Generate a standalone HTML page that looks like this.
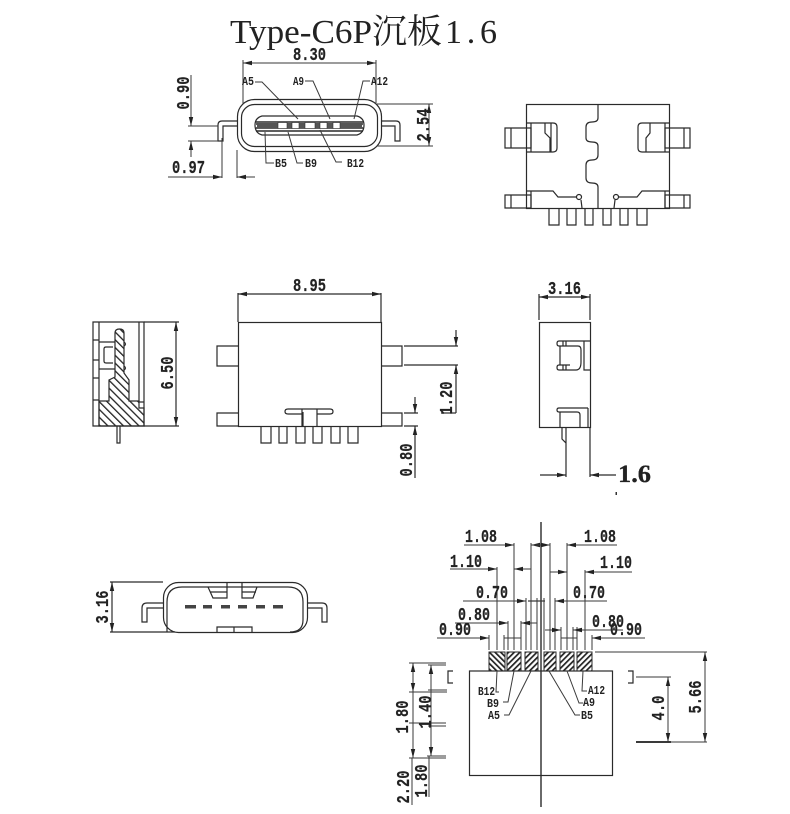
<!DOCTYPE html>
<html><head><meta charset="utf-8"><style>
html,body{margin:0;padding:0;background:#fff}
svg{display:block}
.l{fill:none;stroke:#2a2a2a;stroke-width:1.2}
.t{stroke:#3a3a3a;stroke-width:1;fill:none}
text{fill:#222;font-family:"Liberation Mono","Noto Serif CJK SC",monospace;font-weight:bold}
.d{font-size:18px;stroke:#222;stroke-width:.2}
.s{font-size:12px}
.m{text-anchor:middle}
.ti{font-size:34px;font-weight:normal;font-family:"Liberation Serif","Noto Serif CJK SC",serif}
</style></head><body>
<svg width="790" height="814" viewBox="0 0 790 814" xmlns="http://www.w3.org/2000/svg">
<defs>
<marker id="a" markerUnits="userSpaceOnUse" markerWidth="10" markerHeight="6" refX="9" refY="3" orient="auto-start-reverse"><path d="M0,.8L9,3L0,5.2z" fill="#222"/></marker>
<pattern id="h1" width="5.500" height="5.500" patternUnits="userSpaceOnUse" patternTransform="rotate(-45)"><rect width="5.500" height="5.500" fill="#fff"/><rect width="1.300" height="5.500" fill="#222"/></pattern>
<pattern id="h2" width="4" height="4" patternUnits="userSpaceOnUse" patternTransform="rotate(45)"><rect width="4" height="4" fill="#fff"/><rect width="1.700" height="4" fill="#222"/></pattern>
<pattern id="h3" width="4" height="4" patternUnits="userSpaceOnUse" patternTransform="rotate(-45)"><rect width="4" height="4" fill="#fff"/><rect width="1.700" height="4" fill="#222"/></pattern>
</defs>
<rect width="790" height="814" fill="#fff"/>
<text class="ti" x="230" y="43" textLength="142" lengthAdjust="spacingAndGlyphs">Type-C6P</text>
<text class="ti" x="372" y="43" textLength="70" lengthAdjust="spacingAndGlyphs">沉板</text>
<text class="ti" x="445" y="43" textLength="52" lengthAdjust="spacing">1.6</text>

<!-- front view top-left -->
<g class="l">
<rect x="237.500" y="99.500" width="144" height="52" rx="17"/>
<rect x="241.500" y="104.500" width="136" height="42" rx="13"/>
<path d="M238,121H222Q218,121 218,125V141H223V126H238"/>
<path d="M381,121H396Q400,121 400,125V141H395V126H381"/>
<path d="M262,116H357Q364,118 364,125Q364,133 357,135H262Q255,133 255,125Q255,118 262,116Z"/>
<path d="M256,122H363M256,124H363M256,128H363M256,131H363" stroke-width="1.6"/>
</g>
<path d="M257,123h105v5h-105z" fill="#555"/>
<g fill="#fff" stroke="#333" stroke-width=".6"><rect x="278" y="122.500" width="9" height="6"/><rect x="292" y="122.500" width="7" height="6"/><rect x="305" y="122.500" width="10" height="6"/><rect x="320" y="122.500" width="7" height="6"/><rect x="333" y="122.500" width="7" height="6"/></g>
<g class="t">
<path d="M255,82H262L298,119M305,81H313L330,119M370,81H363L354,119M274,163H266L265,132M303,163H297L288,132M342,162H336L320,130"/>
<path d="M243,60V104M376,60V104M188,126H218M188,141H218M222,138V178M237,150V178M377,104H433M377,146H433"/>
<line x1="243" y1="63" x2="376" y2="63" marker-start="url(#a)" marker-end="url(#a)"/>
<line x1="191" y1="75" x2="191" y2="126" marker-end="url(#a)"/>
<line x1="191" y1="157" x2="191" y2="141" marker-end="url(#a)"/>
<line x1="168" y1="177" x2="222" y2="177" marker-end="url(#a)"/>
<line x1="255" y1="177" x2="237" y2="177" marker-end="url(#a)"/>
<line x1="429" y1="104" x2="429" y2="146" marker-start="url(#a)" marker-end="url(#a)"/>
</g>
<text class="d" x="293" y="60" textLength="33" lengthAdjust="spacingAndGlyphs">8.30</text>
<text class="d m" transform="translate(189,93) rotate(-90)" textLength="33" lengthAdjust="spacingAndGlyphs">0.90</text>
<text class="d" x="172" y="173" textLength="33" lengthAdjust="spacingAndGlyphs">0.97</text>
<text class="d m" transform="translate(429,125) rotate(-90)" textLength="33" lengthAdjust="spacingAndGlyphs">2.54</text>
<g class="s"><text x="242" y="85" textLength="12" lengthAdjust="spacingAndGlyphs">A5</text><text x="293" y="85" textLength="11" lengthAdjust="spacingAndGlyphs">A9</text><text x="371" y="85" textLength="17" lengthAdjust="spacingAndGlyphs">A12</text><text x="275" y="167" textLength="12" lengthAdjust="spacingAndGlyphs">B5</text><text x="305" y="167" textLength="12" lengthAdjust="spacingAndGlyphs">B9</text><text x="347" y="167" textLength="17" lengthAdjust="spacingAndGlyphs">B12</text></g>

<!-- top-right -->
<g class="l">
<rect x="526.500" y="104.500" width="143" height="104"/>
<path d="M598,104V118Q598,122 592,122Q586,122 586,127V138Q586,142 592,142Q598,142 598,146V155Q598,160 592,160Q586,160 586,165V178Q586,183 592,183Q598,183 598,187V208"/>
<path d="M505,128H531V148H505ZM511,128V148M690,128H665V148H690ZM684,128V148"/>
<path d="M526,123H553Q557,123 557,127V148Q557,152 553,152H526M531,123V152M545,123V133L550,138V152M551,123V152"/>
<path d="M669,123H642Q638,123 638,127V148Q638,152 642,152H669M665,123V152M650,123V133L646,138V152"/>
<path d="M505,195H531V208H505ZM511,195V208M690,195H665V208H690ZM684,195V208"/>
<path d="M526,191H553L558,197H576M531,191V208M582,208L581,200M669,191H642L637,197H619M665,191V208M614,208L615,200"/>
<circle cx="579" cy="197" r="2.500"/><circle cx="616" cy="197" r="2.500"/>
<path d="M549,208V225H559V208M567,208V225H576V208M585,208V225H593V208M603,208V225H611V208M620,208V225H628V208M637,208V225H647V208"/>
</g>

<!-- side hatch view -->
<path d="M99,401H109V380L115,377V333Q115,329 119.500,329Q124,329 124,333V373L129,380V401H139V408H144V426H99Z" fill="url(#h1)" stroke="#2a2a2a" stroke-width="1.2"/>
<g class="l">
<path d="M93,322H144V426H93ZM99,322V426M93,340H99M93,360H99M93,378H99M93,400H99M139,322V402H144"/>
<path d="M99,342H115M99,369H115M113,347H106Q104,347 104,349V361Q104,363 106,363H113"/>
<path d="M124,342Q127,344 124,346M124,366Q127,368 124,370"/>
<path d="M117,426V443H120V426"/>
<path d="M144,322H179M144,426H179"/>
<line x1="176" y1="322" x2="176" y2="426" marker-start="url(#a)" marker-end="url(#a)"/>
</g>
<text class="d m" transform="translate(173,373) rotate(-90)" textLength="33" lengthAdjust="spacingAndGlyphs">6.50</text>

<!-- middle front -->
<g class="l">
<rect x="238.500" y="322.500" width="143" height="104"/>
<path d="M238,346H217V366H238M238,413H217V426H238M381,346H402V366H381M381,413H402V426H381"/>
<path d="M302,414H288Q285,414 285,411.500Q285,409 288,409H330Q333,409 333,411.500Q333,414 330,414H317M302,409V426M317,409V426M303,412V426"/>
<path d="M261,426V443H271V426M279,426V443H287V426M296,426V443H305V426M313,426V443H322V426M331,426V443H340V426M348,426V443H358V426"/>
<path d="M238,293V322M381,293V322M404,346H458M404,365H458M404,413H418M404,426H418"/>
<line x1="238" y1="294" x2="381" y2="294" marker-start="url(#a)" marker-end="url(#a)"/>
<line x1="456" y1="330" x2="456" y2="346" marker-end="url(#a)"/>
<line x1="456" y1="413" x2="456" y2="365" marker-end="url(#a)"/>
<line x1="415" y1="397" x2="415" y2="413" marker-end="url(#a)"/>
<line x1="415" y1="478" x2="415" y2="426" marker-end="url(#a)"/>
<path d="M441,413H456"/>
</g>
<text class="d" x="293" y="291" textLength="33" lengthAdjust="spacingAndGlyphs">8.95</text>
<text class="d m" transform="translate(452,398) rotate(-90)" textLength="33" lengthAdjust="spacingAndGlyphs">1.20</text>
<text class="d m" transform="translate(412,460) rotate(-90)" textLength="33" lengthAdjust="spacingAndGlyphs">0.80</text>

<!-- side view right -->
<g class="l">
<rect x="539.500" y="322.500" width="51" height="105"/>
<path d="M590,341H584V370H590M584,341H559Q557,341 557,343.500Q557,346 559,346H578Q581,346 581,350V362Q581,370 576,370H559Q557,370 557,367.500Q557,365 559,365H570"/>
<path d="M560,346V365M563,341V346M566,341V346M563,365V370M566,365V370"/>
<path d="M588,408H559Q557,408 557,410Q557,412 559,412H577Q580,412 580,415V427M560,412V427M588,408V427"/>
<path d="M562,427V439L566,443V427M566,443V477M590,427V477"/>
<line x1="540" y1="475" x2="566" y2="475" marker-end="url(#a)"/>
<line x1="616" y1="475" x2="590" y2="475" marker-end="url(#a)"/>
<path d="M539,294V320M590,294V320"/>
<line x1="539" y1="297" x2="590" y2="297" marker-start="url(#a)" marker-end="url(#a)"/>
</g>
<text class="d" x="548" y="294" textLength="33" lengthAdjust="spacingAndGlyphs">3.16</text>
<text x="618" y="482" font-size="25" textLength="33" lengthAdjust="spacingAndGlyphs" style="font-family:'Liberation Serif',serif;stroke:#222;stroke-width:.3">1.6</text>
<rect x="615.500" y="492" width="1.500" height="3" fill="#333"/>

<!-- bottom-left -->
<g class="l">
<rect x="163.500" y="582.500" width="144" height="50" rx="15"/>
<path d="M167,632V602Q167,587 182,587H288Q303,587 303,602V620Q303,632 290,632"/>
<path d="M163,603H147Q142,603 142,608V622H147V608H163M307,603H322Q327,603 327,608V622H322V608H307"/>
<path d="M227,582V598H213L208,587M242,582V598H253L257,587M210,592H227M242,592H256"/>
<path d="M217,632V627H252V632M234,627V632"/>
<path d="M110,582H163M110,632H175"/>
<line x1="112" y1="582" x2="112" y2="632" marker-start="url(#a)" marker-end="url(#a)"/>
</g>
<g fill="#444"><rect x="185" y="605" width="11" height="3.500"/><rect x="203" y="605" width="9" height="3.500"/><rect x="221" y="605" width="9" height="3.500"/><rect x="238" y="605" width="9" height="3.500"/><rect x="256" y="605" width="9" height="3.500"/><rect x="273" y="605" width="10" height="3.500"/></g>
<text class="d m" transform="translate(108,607) rotate(-90)" textLength="33" lengthAdjust="spacingAndGlyphs">3.16</text>

<!-- footprint -->
<g stroke="#2a2a2a" stroke-width="1">
<rect x="489" y="652" width="16" height="19" fill="url(#h3)"/>
<rect x="507" y="652" width="14" height="19" fill="url(#h2)"/>
<rect x="525" y="652" width="13" height="19" fill="url(#h2)"/>
<rect x="544" y="652" width="12" height="19" fill="url(#h2)"/>
<rect x="560" y="652" width="14" height="19" fill="url(#h2)"/>
<rect x="577" y="652" width="15" height="19" fill="url(#h2)"/>
</g>
<g class="l">
<rect x="469.500" y="671" width="143" height="104.500"/>
<path d="M541,522V807" stroke-width="1.400"/>
<path d="M453,671H448V683H453M628,671H633V683H628"/>
</g>
<g class="t">
<path d="M489,635V650M497,567V650M504,635V650M508,621V650M514,543V650M521,621V650M526,598V650M531,543V650M537,598V650M544,598V650M550,543V650M555,598V650M561,627V650M567,543V650M573,627V650M577,627V650M585,570V650M592,635V650"/>
<line x1="464" y1="545" x2="514" y2="545" marker-end="url(#a)"/>
<line x1="617" y1="545" x2="567" y2="545" marker-end="url(#a)"/>
<line x1="549" y1="545" x2="531" y2="545" marker-end="url(#a)"/>
<line x1="533" y1="545" x2="550" y2="545" marker-end="url(#a)"/>
<line x1="450" y1="569" x2="497" y2="569" marker-end="url(#a)"/>
<line x1="531" y1="569" x2="514" y2="569" marker-end="url(#a)"/>
<line x1="550" y1="572" x2="567" y2="572" marker-end="url(#a)"/>
<line x1="632" y1="572" x2="585" y2="572" marker-end="url(#a)"/>
<line x1="463" y1="601" x2="526" y2="601" marker-end="url(#a)"/>
<line x1="607" y1="601" x2="555" y2="601" marker-end="url(#a)"/>
<line x1="528" y1="601" x2="545" y2="601" stroke-width="1.300"/>
<line x1="455" y1="623" x2="508" y2="623" marker-end="url(#a)"/>
<line x1="537" y1="623" x2="521" y2="623" marker-end="url(#a)"/>
<line x1="545" y1="630" x2="561" y2="630" marker-end="url(#a)"/>
<line x1="623" y1="630" x2="573" y2="630" marker-end="url(#a)"/>
<line x1="437" y1="638" x2="489" y2="638" marker-end="url(#a)"/>
<line x1="504" y1="638" x2="521" y2="638"/>
<line x1="561" y1="638" x2="577" y2="638"/>
<line x1="645" y1="638" x2="592" y2="638" marker-end="url(#a)"/>
<path d="M595,652H707M636,677H671M636,742H707"/>
<path d="M636,742H671" stroke-width="2"/>
<line x1="705" y1="652" x2="705" y2="742" marker-start="url(#a)" marker-end="url(#a)"/>
<line x1="668" y1="677" x2="668" y2="742" marker-start="url(#a)" marker-end="url(#a)"/>
<path d="M409,663H446M428,665H446M409,692H447M428,690H447M409,723H446M428,726H446M427,756H446M409,758H446"/>
<line x1="413" y1="663" x2="413" y2="692" marker-start="url(#a)" marker-end="url(#a)"/>
<line x1="413" y1="692" x2="413" y2="723"/>
<line x1="413" y1="723" x2="413" y2="758" marker-end="url(#a)"/>
<line x1="431" y1="665" x2="431" y2="756" marker-start="url(#a)" marker-end="url(#a)"/>
<path d="M412,758V805M429,756V797"/>
<path d="M497,671L496,692H499M514,671L508,702H503M531,671L509,715H504M583,671L582,691H587M567,671L579,703H583M549,671L575,715H580"/>
</g>
<g class="d">
<text x="465" y="542" textLength="32" lengthAdjust="spacingAndGlyphs">1.08</text>
<text x="584" y="542" textLength="32" lengthAdjust="spacingAndGlyphs">1.08</text>
<text x="450" y="567" textLength="32" lengthAdjust="spacingAndGlyphs">1.10</text>
<text x="600" y="568" textLength="32" lengthAdjust="spacingAndGlyphs">1.10</text>
<text x="476" y="598" textLength="32" lengthAdjust="spacingAndGlyphs">0.70</text>
<text x="573" y="598" textLength="32" lengthAdjust="spacingAndGlyphs">0.70</text>
<text x="458" y="620" textLength="32" lengthAdjust="spacingAndGlyphs">0.80</text>
<text x="592" y="627" textLength="32" lengthAdjust="spacingAndGlyphs">0.80</text>
<text x="439" y="635" textLength="32" lengthAdjust="spacingAndGlyphs">0.90</text>
<text x="610" y="635" textLength="32" lengthAdjust="spacingAndGlyphs">0.90</text>
<text class="m" transform="translate(701,697) rotate(-90)" textLength="33" lengthAdjust="spacingAndGlyphs">5.66</text>
<text class="m" transform="translate(664,708) rotate(-90)" textLength="25" lengthAdjust="spacingAndGlyphs">4.0</text>
<text class="m" transform="translate(408,717) rotate(-90)" textLength="33" lengthAdjust="spacingAndGlyphs">1.80</text>
<text class="m" transform="translate(431,712) rotate(-90)" textLength="33" lengthAdjust="spacingAndGlyphs">1.40</text>
<text class="m" transform="translate(427,781) rotate(-90)" textLength="33" lengthAdjust="spacingAndGlyphs">1.80</text>
<text class="m" transform="translate(409,787) rotate(-90)" textLength="33" lengthAdjust="spacingAndGlyphs">2.20</text>
</g>
<g class="s">
<text x="478" y="695" textLength="17" lengthAdjust="spacingAndGlyphs">B12</text>
<text x="487" y="707" textLength="12" lengthAdjust="spacingAndGlyphs">B9</text>
<text x="488" y="719" textLength="12" lengthAdjust="spacingAndGlyphs">A5</text>
<text x="588" y="694" textLength="17" lengthAdjust="spacingAndGlyphs">A12</text>
<text x="583" y="706" textLength="12" lengthAdjust="spacingAndGlyphs">A9</text>
<text x="581" y="719" textLength="12" lengthAdjust="spacingAndGlyphs">B5</text>
</g>
</svg>
</body></html>
